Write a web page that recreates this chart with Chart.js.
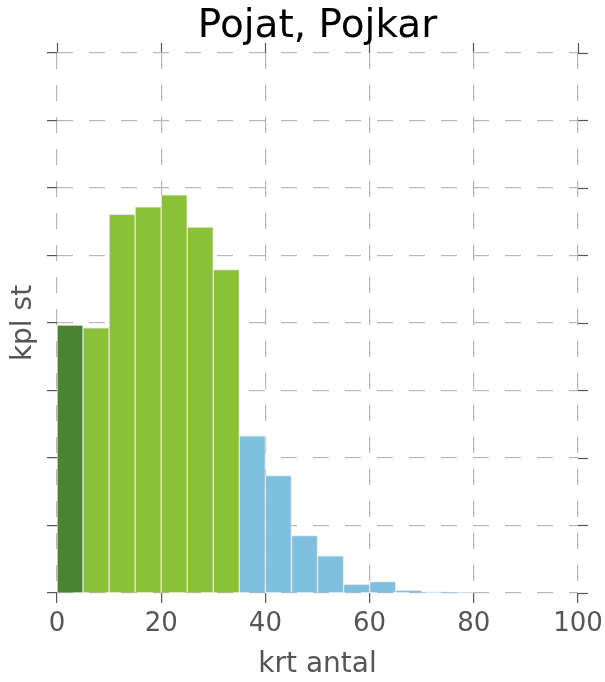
<!DOCTYPE html>
<html>
<head>
<meta charset="utf-8">
<script src="https://cdn.jsdelivr.net/npm/chart.js@4"></script>
<style>
  html, body { margin: 0; padding: 0; background: #fff; }
  #wrap { width: 605px; height: 682px; }
</style>
</head>
<body>
<div id="wrap"><canvas id="myChart" width="605" height="682"></canvas></div>
<script>
// histogram bins, 5 units wide
var binStart = [0, 5, 10, 15, 20, 25, 30, 35, 40, 45, 50, 55, 60, 65, 70, 75];
var counts = [3.97, 3.93, 5.61, 5.72, 5.90, 5.42, 4.79, 2.33, 1.74, 0.85, 0.55, 0.13, 0.17, 0.04, 0.015, 0.005];
var xTicks = [0, 20, 40, 60, 80, 100];
var binWidth = 5;

var darkGreen = "#4a8430";
var green = "#8bc136";
var blue = "#7fbfdf";

var barColors = [];
var points = [];
for (var i = 0; i < binStart.length; i++) {
  points.push({ x: binStart[i] + binWidth / 2, y: counts[i] });
  if (i == 0) barColors.push(darkGreen);
  else if (binStart[i] < 35) barColors.push(green);
  else barColors.push(blue);
}

var gridColor = "#b8b8b8";
var tickColor = "#555555";
var font = "'DejaVu Sans', sans-serif";

function noSidePadding(scale) {
  scale.paddingLeft = 0;
  scale.paddingRight = 0;
}

const ctx = document.getElementById("myChart");

new Chart(ctx, {
  type: "bar",
  data: {
    datasets: [
      {
        data: points,
        backgroundColor: barColors,
        borderColor: "#e6e6e6",
        borderWidth: 1,
        barPercentage: 1,
        categoryPercentage: 1,
      },
    ],
  },
  options: {
    responsive: false,
    animation: false,
    layout: { padding: 0 },
    plugins: {
      legend: { display: false },
      tooltip: { enabled: false },
    },
    scales: {
      x: {
        type: "linear",
        position: "bottom",
        min: 0,
        max: 100,
        offset: false,
        z: 1,
        afterBuildTicks: function (scale) {
          scale.ticks = xTicks.map(function (v) { return { value: v }; });
        },
        afterFit: function (scale) {
          scale.height = 89;
          noSidePadding(scale);
        },
        ticks: {
          color: tickColor,
          font: { family: font, size: 26 },
          padding: 6,
          maxRotation: 0,
        },
        grid: {
          offset: false,
          color: gridColor,
          lineWidth: 1.2,
          tickColor: tickColor,
          tickLength: 10,
          tickWidth: 1.2,
          tickBorderDash: [],
        },
        border: { display: false, dash: [16, 16] },
        title: {
          display: true,
          text: "krt antal",
          color: tickColor,
          font: { family: font, size: 28 },
          padding: { top: 0, bottom: 0 },
        },
      },
      // top axis: mirrored tick marks, and the chart title centred over the plot
      x2: {
        type: "linear",
        position: "top",
        min: 0,
        max: 100,
        offset: false,
        afterBuildTicks: function (scale) {
          scale.ticks = xTicks.map(function (v) { return { value: v }; });
        },
        afterFit: function (scale) {
          scale.height = 53;
          noSidePadding(scale);
        },
        ticks: { display: false },
        grid: {
          offset: false,
          drawOnChartArea: false,
          tickColor: tickColor,
          tickLength: 10,
          tickWidth: 1.2,
        },
        border: { display: false },
        title: {
          display: true,
          text: "Pojat, Pojkar",
          color: "#000",
          font: { family: font, size: 39, lineHeight: 1.2 },
          padding: { top: 3, bottom: 0 },
        },
      },
      y: {
        position: "left",
        min: 0,
        max: 8,
        z: 1,
        afterFit: function (scale) { scale.width = 57; },
        ticks: { display: false, stepSize: 1 },
        grid: {
          color: gridColor,
          lineWidth: 1.2,
          tickColor: tickColor,
          tickLength: 10,
          tickWidth: 1.2,
          tickBorderDash: [],
        },
        border: { display: false, dash: [16, 16] },
        title: {
          display: true,
          text: "kpl st",
          color: tickColor,
          font: { family: font, size: 28 },
          padding: { top: 7, bottom: 0 },
        },
      },
      y2: {
        position: "right",
        min: 0,
        max: 8,
        afterFit: function (scale) { scale.width = 27; },
        ticks: { display: false, stepSize: 1 },
        grid: {
          drawOnChartArea: false,
          tickColor: tickColor,
          tickLength: 10,
          tickWidth: 1.2,
        },
        border: { display: false },
      },
    },
  },
});
</script>
</body>
</html>
